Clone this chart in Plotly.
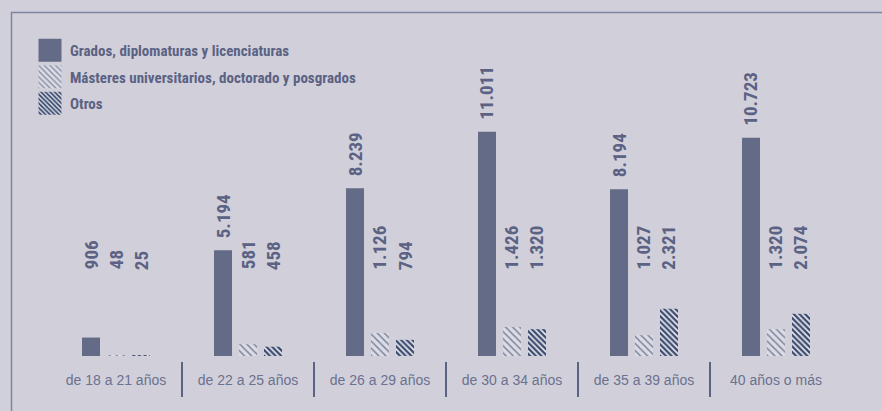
import plotly.graph_objects as go

# Age brackets on the category axis
categories = ["de 18 a 21 años", "de 22 a 25 años", "de 26 a 29 años",
              "de 30 a 34 años", "de 35 a 39 años", "40 años o más"]

# Series names and values
series_names = ["Grados, diplomaturas y licenciaturas",
                "Másteres universitarios, doctorado y posgrados",
                "Otros"]
grados = [906, 5194, 8239, 11011, 8194, 10723]
masteres = [48, 581, 1126, 1426, 1027, 1320]
otros = [25, 458, 794, 1320, 2321, 2074]
series_values = [grados, masteres, otros]

# Value labels of short bars are lifted to this common level
LABEL_FLOOR = 3650
Y_MAX = 16500

BG = "#d1d0da"
TEXT = "#5b6283"
BAR_GAP = 0.432
GROUP_GAP = 0.28

styles = [
    dict(color="#646b86"),
    dict(color="#dcdce4",
         pattern=dict(shape="\\", bgcolor="#dcdce4", fgcolor="#7f86a0",
                      size=5, solidity=0.3, fillmode="replace")),
    dict(color="#3e4c6f",
         pattern=dict(shape="\\", bgcolor="#3e4c6f", fgcolor="#eceef4",
                      size=4, solidity=0.4, fillmode="replace")),
]

fig = go.Figure()
for i, (name, vals, st) in enumerate(zip(series_names, series_values, styles)):
    fig.add_trace(go.Bar(
        x=categories, y=vals, name=name, legendgroup=f"g{i}",
        marker=dict(line=dict(width=0), **st),
        hoverinfo="skip",
    ))

# Rotated value labels above each bar
slot = (1 - BAR_GAP) / len(series_values)
label_font = dict(family="Liberation Sans Narrow, Roboto Condensed, Roboto, sans-serif",
                  size=19, color=TEXT, weight="bold")
for j, vals in enumerate(series_values):
    off = (j - 1) * slot
    for i, v in enumerate(vals):
        txt = f"{v:,}".replace(",", ".")
        fig.add_annotation(
            x=i + off, y=max(v, LABEL_FLOOR), xref="x", yref="y",
            text=txt, textangle=-90, showarrow=False,
            xanchor="center", yanchor="bottom", yshift=10,
            font=label_font,
        )

# Separators between age brackets
plot_h = 411 - 20 - 55
for i in range(len(categories) - 1):
    fig.add_shape(type="line", xref="x", yref="paper",
                  x0=i + 0.5, x1=i + 0.5,
                  y0=-6 / plot_h, y1=-41 / plot_h,
                  line=dict(color="#5b6385", width=2))

# Frame around the chart
plot_w = 882 - 50 - 40
fig.add_shape(type="path", xref="paper", yref="paper",
              path=f"M {(11.5 - 50) / plot_w},{-80 / plot_h} "
                   f"L {(11.5 - 50) / plot_w},{(356 - 12.5) / plot_h} "
                   f"L {(900 - 50) / plot_w},{(356 - 12.5) / plot_h}",
              line=dict(color="#7d83a0", width=1.5))

fig.update_layout(
    width=882, height=411,
    margin=dict(l=50, r=40, t=20, b=55, autoexpand=False),
    paper_bgcolor=BG, plot_bgcolor=BG,
    barmode="group", bargap=BAR_GAP, bargroupgap=GROUP_GAP,
    showlegend=True,
    legend=dict(
        xref="container", yref="container",
        x=30 / 882, y=1 - 34 / 411, xanchor="left", yanchor="top",
        bgcolor="rgba(0,0,0,0)", traceorder="grouped", tracegroupgap=4,
        font=dict(family="Liberation Sans Narrow, Roboto Condensed, Roboto, sans-serif",
                  size=15, color=TEXT, weight="bold"),
    ),
    xaxis=dict(
        showgrid=False, zeroline=False, showline=False, ticks="",
        tickangle=0, ticklabelstandoff=14,
        tickfont=dict(family="Liberation Sans, Arial, sans-serif", size=14,
                      color="#6b7190"),
    ),
    yaxis=dict(range=[0, Y_MAX], visible=False, showgrid=False, zeroline=False),
    font=dict(family="Liberation Sans, Arial, sans-serif", color=TEXT),
)

# Enlarge the legend swatches (23 px squares) without scaling their hatching
post_js = """
document.querySelectorAll('.legend .legendpoints path').forEach(function(p){
  p.setAttribute('d', 'M11.5,11.5H-11.5V-11.5H11.5Z');
});
"""

fig.write_html("out.html", post_script=post_js)
